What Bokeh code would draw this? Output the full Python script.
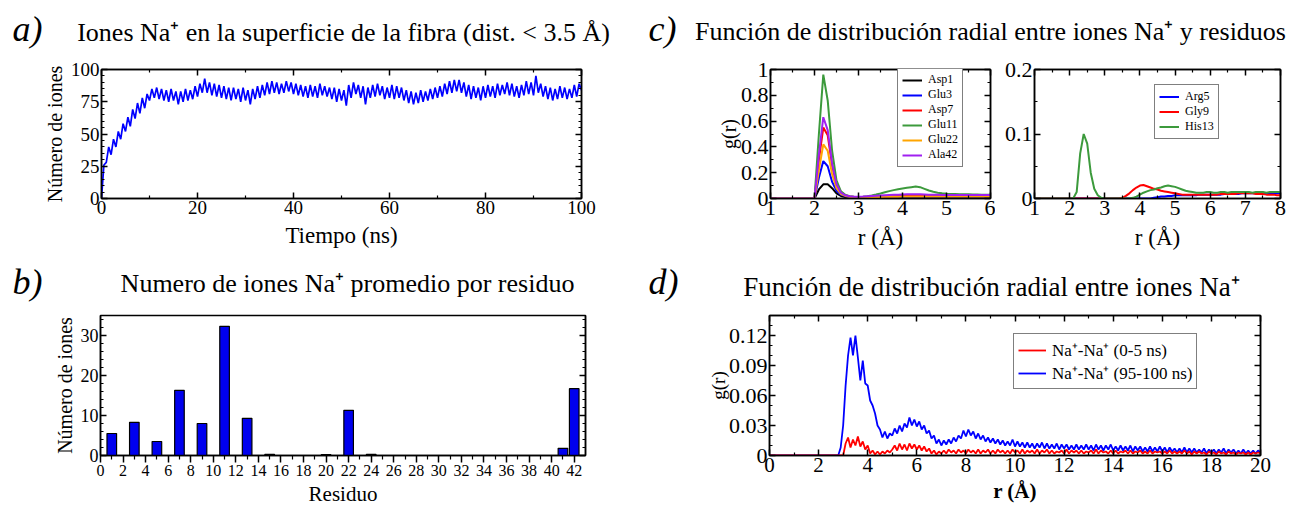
import numpy as np
from bokeh.plotting import figure
from bokeh.layouts import column, row
from bokeh.models import Range1d, LinearAxis, FixedTicker, Legend, LegendItem
from bokeh.core.properties import value
from bokeh.embed import file_html
from bokeh.resources import INLINE

SERIF = "Liberation Serif"

# ---------------- a) Na+ ions at the fibre surface (dist. < 3.5 A) ----------------
TIME_NS = np.arange(0, 100.25, 0.5)
SURFACE_IONS = (
    [0, 26, 28, 40, 34, 46, 40, 52, 46, 58, 52, 63, 56, 69, 62, 74, 66, 78, 70, 81]
    + [76, 85, 78, 86, 77, 85, 76, 84, 75, 85, 76, 83, 73, 83, 75, 85, 76, 84, 77, 87]
    + [79, 89, 82, 93, 82, 90, 80, 89, 79, 88, 78, 87, 77, 86, 76, 86, 77, 85, 75, 86]
    + [76, 84, 73, 85, 77, 87, 78, 88, 80, 90, 81, 91, 82, 90, 81, 89, 82, 91, 83, 90]
    + [81, 89, 80, 88, 79, 87, 78, 88, 79, 87, 78, 89, 80, 87, 79, 86, 77, 86, 75, 85]
    + [76, 84, 72, 88, 78, 90, 81, 88, 78, 87, 73, 86, 78, 88, 79, 89, 80, 87, 77, 86]
    + [78, 88, 77, 87, 78, 86, 76, 84, 74, 83, 73, 82, 74, 84, 75, 83, 76, 85, 77, 86]
    + [78, 87, 79, 89, 81, 91, 82, 92, 83, 92, 82, 90, 79, 88, 77, 87, 78, 86, 76, 87]
    + [78, 88, 79, 87, 78, 89, 80, 88, 81, 90, 80, 89, 79, 87, 78, 88, 80, 91, 81, 90]
    + [80, 95, 82, 89, 79, 87, 77, 86, 76, 85, 77, 87, 78, 86, 77, 85, 78, 88, 79, 89]
    + [84]
)

# ---------------- b) mean number of Na+ ions per residue ----------------
RESIDUES = list(range(1, 43))
IONS_PER_RESIDUE = [
    5.5, 0, 8.3, 0, 3.5, 0, 16.3, 0, 8.0, 0,        # 1-10
    32.3, 0, 9.3, 0, 0.3, 0, 0, 0, 0, 0.2,          # 11-20
    0, 11.3, 0, 0.3, 0, 0, 0, 0, 0, 0,              # 21-30
    0, 0, 0, 0, 0, 0, 0, 0, 0, 0,                   # 31-40
    1.8, 16.7,                                      # 41-42
]

# ---------------- c) g(r) between Na+ and residues ----------------
C1_R = [1.0] + list(np.round(np.arange(2.0, 6.05, 0.1), 1))
C1_SERIES = {
    "Asp1": [0.0,
             0.0, 0.07, 0.11, 0.11, 0.08, 0.04, 0.02, 0.012, 0.008, 0.006,
             0.005, 0.005, 0.005, 0.006, 0.006, 0.007, 0.007, 0.008, 0.008, 0.008,
             0.009, 0.009, 0.009, 0.009, 0.009, 0.009, 0.009, 0.009, 0.009, 0.009,
             0.009, 0.009, 0.009, 0.009, 0.009, 0.009, 0.009, 0.009, 0.009, 0.009,
             0.009],
    "Glu3": [0.0,
             0.0, 0.16, 0.29, 0.25, 0.13, 0.06, 0.03, 0.018, 0.012, 0.010,
             0.009, 0.009, 0.010, 0.010, 0.011, 0.012, 0.012, 0.013, 0.013, 0.014,
             0.014, 0.015, 0.015, 0.015, 0.015, 0.015, 0.015, 0.015, 0.015, 0.015,
             0.015, 0.015, 0.015, 0.015, 0.015, 0.015, 0.015, 0.015, 0.015, 0.015,
             0.015],
    "Asp7": [0.0,
             0.0, 0.30, 0.55, 0.49, 0.26, 0.11, 0.05, 0.025, 0.016, 0.012,
             0.011, 0.011, 0.012, 0.013, 0.014, 0.015, 0.016, 0.017, 0.018, 0.019,
             0.020, 0.021, 0.022, 0.022, 0.021, 0.020, 0.020, 0.019, 0.019, 0.019,
             0.019, 0.019, 0.019, 0.019, 0.019, 0.019, 0.019, 0.019, 0.019, 0.019,
             0.019],
    "Glu11": [0.0,
              0.0, 0.50, 0.96, 0.76, 0.37, 0.14, 0.055, 0.028, 0.018, 0.013,
              0.012, 0.014, 0.018, 0.024, 0.031, 0.039, 0.048, 0.057, 0.065, 0.072,
              0.078, 0.083, 0.088, 0.093, 0.088, 0.075, 0.062, 0.052, 0.045, 0.040,
              0.037, 0.035, 0.034, 0.033, 0.032, 0.032, 0.031, 0.031, 0.030, 0.030,
              0.030],
    "Glu22": [0.0,
              0.0, 0.22, 0.42, 0.37, 0.19, 0.08, 0.035, 0.020, 0.014, 0.011,
              0.010, 0.010, 0.011, 0.011, 0.012, 0.012, 0.013, 0.013, 0.014, 0.014,
              0.015, 0.015, 0.015, 0.015, 0.015, 0.015, 0.015, 0.015, 0.015, 0.015,
              0.015, 0.015, 0.015, 0.015, 0.015, 0.015, 0.015, 0.015, 0.015, 0.015,
              0.015],
    "Ala42": [0.0,
              0.0, 0.34, 0.63, 0.53, 0.27, 0.11, 0.045, 0.025, 0.017, 0.014,
              0.014, 0.015, 0.017, 0.019, 0.021, 0.023, 0.025, 0.027, 0.029, 0.030,
              0.031, 0.032, 0.033, 0.033, 0.032, 0.031, 0.030, 0.029, 0.029, 0.028,
              0.028, 0.028, 0.028, 0.028, 0.028, 0.028, 0.028, 0.028, 0.028, 0.028,
              0.028],
}
C1_COLORS = {"Asp1": "#000000", "Glu3": "#0000ff", "Asp7": "#ff0000",
             "Glu11": "#3c9a3c", "Glu22": "#ffa500", "Ala42": "#a020f0"}

C2_R = [1.0] + list(np.round(np.arange(2.0, 8.05, 0.1), 1))
C2_SERIES = {
    "Arg5": [0.0,
             0, 0, 0, 0, 0, 0, 0, 0, 0, 0,
             0, 0, 0, 0, 0, 0, 0, 0, 0, 0,
             0, 0, 0, 0, 0.001, 0.002, 0.003, 0.003, 0.004, 0.004,
             0.005, 0.005, 0.005, 0.005, 0.005, 0.005, 0.005, 0.006, 0.006, 0.006,
             0.006, 0.006, 0.006, 0.006, 0.007, 0.007, 0.007, 0.007, 0.007, 0.008,
             0.008, 0.008, 0.008, 0.008, 0.008, 0.008, 0.008, 0.008, 0.008, 0.008,
             0.008],
    "Gly9": [0.0,
             0, 0, 0, 0, 0, 0, 0, 0, 0, 0,
             0, 0, 0, 0, 0, 0.001, 0.004, 0.008, 0.013, 0.017,
             0.020, 0.021, 0.019, 0.017, 0.015, 0.014, 0.012, 0.011, 0.010, 0.009,
             0.008, 0.007, 0.006, 0.006, 0.006, 0.006, 0.006, 0.006, 0.006, 0.006,
             0.006, 0.006, 0.006, 0.007, 0.007, 0.007, 0.007, 0.007, 0.008, 0.008,
             0.008, 0.008, 0.008, 0.007, 0.007, 0.007, 0.006, 0.006, 0.006, 0.005,
             0.005],
    "His13": [0.0,
              0.0, 0.0, 0.010, 0.070, 0.100, 0.085, 0.040, 0.015, 0.005, 0.001,
              0, 0, 0, 0, 0, 0, 0, 0, 0.001, 0.003,
              0.006, 0.009, 0.011, 0.013, 0.014, 0.016, 0.017, 0.019, 0.020, 0.019,
              0.018, 0.016, 0.014, 0.012, 0.011, 0.010, 0.009, 0.009, 0.009, 0.010,
              0.010, 0.009, 0.009, 0.010, 0.010, 0.009, 0.010, 0.010, 0.010, 0.010,
              0.010, 0.010, 0.009, 0.010, 0.010, 0.010, 0.009, 0.010, 0.010, 0.010,
              0.010],
}
C2_COLORS = {"Arg5": "#0000ff", "Gly9": "#ff0000", "His13": "#3c9a3c"}

# ---------------- d) g(r) between Na+ ions ----------------
NA_R = np.round(np.arange(0, 20.05, 0.1), 1)
NA_EARLY = (  # 0-5 ns
    [0.0] * 30
    + [0.000, 0.012, 0.018, 0.008, 0.016, 0.010, 0.019, 0.009, 0.014, 0.006]
    + [0.010, 0.002, 0.005, 0.001, 0.004, 0.001, 0.004, 0.002, 0.005, 0.003]
    + [0.006, 0.010, 0.005, 0.012, 0.006, 0.011, 0.005, 0.012, 0.007, 0.011]
    + [0.006, 0.010, 0.005, 0.009, 0.004, 0.007, 0.002, 0.005, 0.001, 0.004]
    + [0.002, 0.005, 0.002, 0.006, 0.003, 0.005, 0.002, 0.006, 0.003, 0.005]
    + [0.002, 0.006, 0.003, 0.005, 0.002, 0.006, 0.002, 0.005, 0.003, 0.006]
    + [0.002, 0.005, 0.002, 0.006, 0.003, 0.005, 0.002, 0.005, 0.002, 0.006]
    + [0.003, 0.005, 0.002, 0.006, 0.002, 0.005, 0.003, 0.005, 0.002, 0.006]
    + [0.002, 0.005, 0.003, 0.006, 0.002, 0.005, 0.002, 0.004, 0.003, 0.005]
    + [0.002, 0.006, 0.002, 0.005, 0.003, 0.005, 0.002, 0.005, 0.002, 0.004]
    + [0.003, 0.005, 0.002, 0.006, 0.002, 0.005, 0.003, 0.004, 0.002, 0.005]
    + [0.002, 0.005, 0.002, 0.004, 0.003, 0.005, 0.002, 0.005, 0.002, 0.004]
    + [0.003, 0.005, 0.002, 0.004, 0.002, 0.005, 0.002, 0.004, 0.003, 0.004]
    + [0.002, 0.004, 0.002, 0.005, 0.002, 0.004, 0.002, 0.004, 0.002, 0.005]
    + [0.002, 0.004, 0.001, 0.004, 0.002, 0.004, 0.002, 0.003, 0.001, 0.004]
    + [0.002, 0.003, 0.001, 0.004, 0.002, 0.003, 0.001, 0.004, 0.002, 0.003]
    + [0.001, 0.003, 0.002, 0.003, 0.001, 0.003, 0.001, 0.003, 0.002, 0.003]
    + [0.002]
)
NA_LATE = (  # 95-100 ns
    [0.0] * 28
    + [0.000, 0.008]
    + [0.030, 0.070, 0.100, 0.118, 0.100, 0.120, 0.098, 0.075, 0.095, 0.072]
    + [0.070, 0.055, 0.050, 0.042, 0.030, 0.026, 0.018, 0.024, 0.017, 0.022]
    + [0.020, 0.027, 0.022, 0.030, 0.024, 0.032, 0.028, 0.038, 0.030, 0.036]
    + [0.029, 0.034, 0.026, 0.030, 0.022, 0.025, 0.017, 0.020, 0.012, 0.016]
    + [0.010, 0.015, 0.011, 0.016, 0.012, 0.018, 0.014, 0.020, 0.017, 0.025]
    + [0.019, 0.026, 0.020, 0.024, 0.017, 0.022, 0.016, 0.020, 0.014, 0.018]
    + [0.013, 0.017, 0.012, 0.016, 0.011, 0.015, 0.010, 0.014, 0.010, 0.016]
    + [0.009, 0.014, 0.009, 0.013, 0.008, 0.013, 0.008, 0.012, 0.007, 0.012]
    + [0.008, 0.013, 0.007, 0.012, 0.007, 0.011, 0.007, 0.012, 0.006, 0.011]
    + [0.007, 0.011, 0.006, 0.010, 0.006, 0.011, 0.006, 0.010, 0.006, 0.011]
    + [0.006, 0.010, 0.005, 0.011, 0.006, 0.010, 0.005, 0.010, 0.006, 0.011]
    + [0.005, 0.009, 0.005, 0.010, 0.005, 0.009, 0.005, 0.010, 0.004, 0.009]
    + [0.005, 0.009, 0.004, 0.008, 0.004, 0.009, 0.004, 0.008, 0.004, 0.009]
    + [0.004, 0.008, 0.003, 0.008, 0.004, 0.007, 0.003, 0.007, 0.003, 0.008]
    + [0.003, 0.007, 0.003, 0.007, 0.003, 0.006, 0.003, 0.007, 0.002, 0.006]
    + [0.003, 0.006, 0.002, 0.006, 0.003, 0.007, 0.002, 0.006, 0.003, 0.006]
    + [0.002, 0.005, 0.002, 0.006, 0.002, 0.005, 0.002, 0.005, 0.002, 0.005]
    + [0.003]
)

assert len(SURFACE_IONS) == len(TIME_NS)
assert len(NA_EARLY) == len(NA_R) and len(NA_LATE) == len(NA_R)
for v in C1_SERIES.values():
    assert len(v) == len(C1_R)
for v in C2_SERIES.values():
    assert len(v) == len(C2_R)


# ---------------- helpers ----------------
def panel(w, h, xr, yr, left, right, top, bottom):
    p = figure(width=w, height=h, x_range=Range1d(*xr), y_range=Range1d(*yr),
               output_backend="svg", toolbar_location=None,
               min_border_left=left, min_border_right=right,
               min_border_top=top, min_border_bottom=bottom)
    p.grid.visible = False
    p.outline_line_color = "black"
    p.outline_line_width = 1.5
    p.background_fill_color = "white"
    p.border_fill_color = "white"
    return p


def style_axis(ax, ticks, minor, size, tin=6, tout=0, mtin=3, mtout=0, overrides=None):
    ax.ticker = FixedTicker(ticks=ticks, minor_ticks=minor)
    ax.axis_line_color = "black"
    ax.axis_line_width = 1.5
    ax.major_tick_line_width = 1.5
    ax.minor_tick_line_width = 1.2
    ax.major_tick_in = tin
    ax.major_tick_out = tout
    ax.minor_tick_in = mtin
    ax.minor_tick_out = mtout
    ax.major_label_text_font = SERIF
    ax.major_label_text_font_size = size
    ax.major_label_text_color = "black"
    ax.major_label_standoff = 2
    ax.axis_label_text_font = SERIF
    ax.axis_label_text_font_style = "normal"
    ax.axis_label_text_color = "black"
    ax.axis_label_standoff = 2
    if overrides:
        ax.major_label_overrides = overrides


def mirror_axis(p, side, ticks, minor, tin=6, mtin=3):
    ax = LinearAxis()
    style_axis(ax, ticks, minor, "0px", tin=tin, tout=0, mtin=mtin, mtout=0)
    ax.major_label_standoff = 0
    ax.major_label_text_alpha = 0
    p.add_layout(ax, side)


def header(w, h, items):
    p = figure(width=w, height=h, x_range=Range1d(0, w), y_range=Range1d(h, 0),
               output_backend="svg", toolbar_location=None,
               min_border=0, outline_line_color=None)
    p.axis.visible = False
    p.grid.visible = False
    for x, y, txt, size, style, align in items:
        p.text(x=[x], y=[y], text=[txt], text_font=value(SERIF),
               text_font_size=size, text_font_style=style, text_color="black",
               text_align=align, text_baseline="middle")
    return p


def legend(p, entries, loc, size, item_h, glyph_w=20):
    lg = Legend(items=[LegendItem(label=l, renderers=[r]) for l, r in entries],
                location=loc, orientation="vertical")
    lg.border_line_color = "black"
    lg.border_line_width = 1.5
    lg.background_fill_alpha = 1.0
    lg.label_text_font = SERIF
    lg.label_text_font_size = size
    lg.label_text_color = "black"
    lg.label_text_line_height = 1.0
    lg.glyph_width = glyph_w
    lg.glyph_height = item_h
    lg.label_height = item_h
    lg.spacing = 0
    lg.padding = 4
    lg.margin = 0
    lg.label_standoff = 6
    p.add_layout(lg, "center")


# ---------------- a ----------------
pa = panel(640, 208, (0, 100), (0, 100), 101, 59, 17, 56)
a_minor_y = [v for v in range(5, 100, 5) if v % 25]
style_axis(pa.xaxis[0], [0, 20, 40, 60, 80, 100], list(range(10, 100, 20)), "19px")
style_axis(pa.yaxis[0], [0, 25, 50, 75, 100], a_minor_y, "19px")
pa.xaxis.axis_label = "Tiempo (ns)"
pa.yaxis.axis_label = "Número de iones"
pa.xaxis.axis_label_text_font_size = "23px"
pa.yaxis.axis_label_text_font_size = "20px"
pa.xaxis.axis_label_standoff = 6
mirror_axis(pa, "right", [0, 25, 50, 75, 100], a_minor_y)
mirror_axis(pa, "above", [0, 20, 40, 60, 80, 100], list(range(10, 100, 20)))
pa.line(TIME_NS, SURFACE_IONS, line_color="#0000ff", line_width=1.7)

# ---------------- b ----------------
pb = panel(640, 208, (0, 43), (0, 35), 100, 55, 10, 55)
b_minor_y = [v for v in range(2, 35, 2) if v % 10]
style_axis(pb.xaxis[0], list(range(0, 43, 2)), list(range(1, 43, 2)), "16px",
           tin=0, tout=7, mtin=0, mtout=4)
style_axis(pb.yaxis[0], [0, 10, 20, 30], b_minor_y, "18px")
pb.xaxis.axis_label = "Residuo"
pb.yaxis.axis_label = "Número de iones"
pb.xaxis.axis_label_text_font_size = "21px"
pb.yaxis.axis_label_text_font_size = "20px"
pb.xaxis.axis_label_standoff = 3
mirror_axis(pb, "right", [0, 10, 20, 30], b_minor_y)
pb.vbar(x=RESIDUES, top=IONS_PER_RESIDUE, width=0.85,
        fill_color="#0000ee", line_color="black", line_width=1.2)

# ---------------- c (left) ----------------
pc1 = panel(355, 208, (1, 6), (0, 1), 130, 5, 10, 62)
style_axis(pc1.xaxis[0], [1, 2, 3, 4, 5, 6], [1.5, 2.5, 3.5, 4.5, 5.5], "22px")
style_axis(pc1.yaxis[0], [0, 0.2, 0.4, 0.6, 0.8, 1], [0.1, 0.3, 0.5, 0.7, 0.9], "22px",
           overrides={0: "0", 0.2: "0.2", 0.4: "0.4", 0.6: "0.6", 0.8: "0.8", 1: "1"})
pc1.xaxis.axis_label = "r (Å)"
pc1.yaxis.axis_label = "g(r)"
pc1.xaxis.axis_label_text_font_size = "23px"
pc1.yaxis.axis_label_text_font_size = "20px"
pc1.xaxis.axis_label_standoff = 7
pc1.yaxis.axis_label_standoff = -2
mirror_axis(pc1, "right", [0, 0.2, 0.4, 0.6, 0.8, 1], [0.1, 0.3, 0.5, 0.7, 0.9])
mirror_axis(pc1, "above", [1, 2, 3, 4, 5, 6], [1.5, 2.5, 3.5, 4.5, 5.5])
c1_entries = []
for name in ["Asp1", "Glu3", "Asp7", "Glu11", "Glu22", "Ala42"]:
    r = pc1.line(C1_R, C1_SERIES[name], line_color=C1_COLORS[name], line_width=2)
    c1_entries.append((name, r))
legend(pc1, c1_entries, (127, 31), "12px", 14)

# ---------------- c (right) ----------------
pc2 = panel(296, 208, (1, 8), (0, 0.2), 39, 11, 10, 62)
style_axis(pc2.xaxis[0], [1, 2, 3, 4, 5, 6, 7, 8], [1.5, 2.5, 3.5, 4.5, 5.5, 6.5, 7.5], "22px")
style_axis(pc2.yaxis[0], [0, 0.1, 0.2], [0.05, 0.15], "22px",
           overrides={0: "0", 0.1: "0.1", 0.2: "0.2"})
pc2.xaxis.axis_label = "r (Å)"
pc2.xaxis.axis_label_text_font_size = "23px"
pc2.xaxis.axis_label_standoff = 7
mirror_axis(pc2, "right", [0, 0.1, 0.2], [0.05, 0.15])
mirror_axis(pc2, "above", [1, 2, 3, 4, 5, 6, 7, 8], [1.5, 2.5, 3.5, 4.5, 5.5, 6.5, 7.5])
c2_entries = []
for name in ["Arg5", "Gly9", "His13"]:
    r = pc2.line(C2_R, C2_SERIES[name], line_color=C2_COLORS[name], line_width=2)
    c2_entries.append((name, r))
legend(pc2, c2_entries, (120, 59), "12px", 15)

# ---------------- d ----------------
pd_ = panel(651, 208, (0, 20), (0, 0.14), 129, 31, 13, 50)
y_major = [0, 0.03, 0.06, 0.09, 0.12]
y_minor = [0.01, 0.02, 0.04, 0.05, 0.07, 0.08, 0.10, 0.11, 0.13]
style_axis(pd_.xaxis[0], list(range(0, 21, 2)), list(range(1, 20, 2)), "21px")
style_axis(pd_.yaxis[0], y_major, y_minor, "22px",
           overrides={0: "0", 0.03: "0.03", 0.06: "0.06", 0.09: "0.09", 0.12: "0.12"})
pd_.xaxis.axis_label = "r (Å)"
pd_.yaxis.axis_label = "g(r)"
pd_.xaxis.axis_label_text_font_size = "21px"
pd_.xaxis.axis_label_text_font_style = "bold"
pd_.xaxis.axis_label_standoff = 4
pd_.yaxis.axis_label_text_font_size = "19px"
pd_.yaxis.axis_label_standoff = -3
mirror_axis(pd_, "right", y_major, y_minor)
mirror_axis(pd_, "above", list(range(0, 21, 2)), list(range(1, 20, 2)))
r_late = pd_.line(NA_R, NA_LATE, line_color="#0000ff", line_width=1.8)
r_early = pd_.line(NA_R, NA_EARLY, line_color="#ff0000", line_width=1.8)
legend(pd_, [("Na⁺-Na⁺ (0-5 ns)", r_early), ("Na⁺-Na⁺ (95-100 ns)", r_late)],
       (244, 66), "17px", 22, glyph_w=28)

# ---------------- panel headings ----------------
h1 = header(1291, 52, [
    (12, 28, "a)", "36px", "italic", "left"),
    (343, 32, "Iones Na⁺ en la superficie de la fibra (dist. < 3.5 Å)", "26px", "normal", "center"),
    (648, 28, "c)", "36px", "italic", "left"),
    (990, 31, "Función de distribución radial entre iones Na⁺ y residuos", "26px", "normal", "center"),
])
h2 = header(1291, 42, [
    (12, 21, "b)", "36px", "italic", "left"),
    (347, 23, "Numero de iones Na⁺ promedio por residuo", "26px", "normal", "center"),
    (648, 21, "d)", "36px", "italic", "left"),
    (991, 26, "Función de distribución radial entre iones Na⁺", "27px", "normal", "center"),
])

layout = column(h1, row(pa, pc1, pc2), h2, row(pb, pd_), spacing=0)
open("out.html", "w").write(file_html(layout, INLINE))
